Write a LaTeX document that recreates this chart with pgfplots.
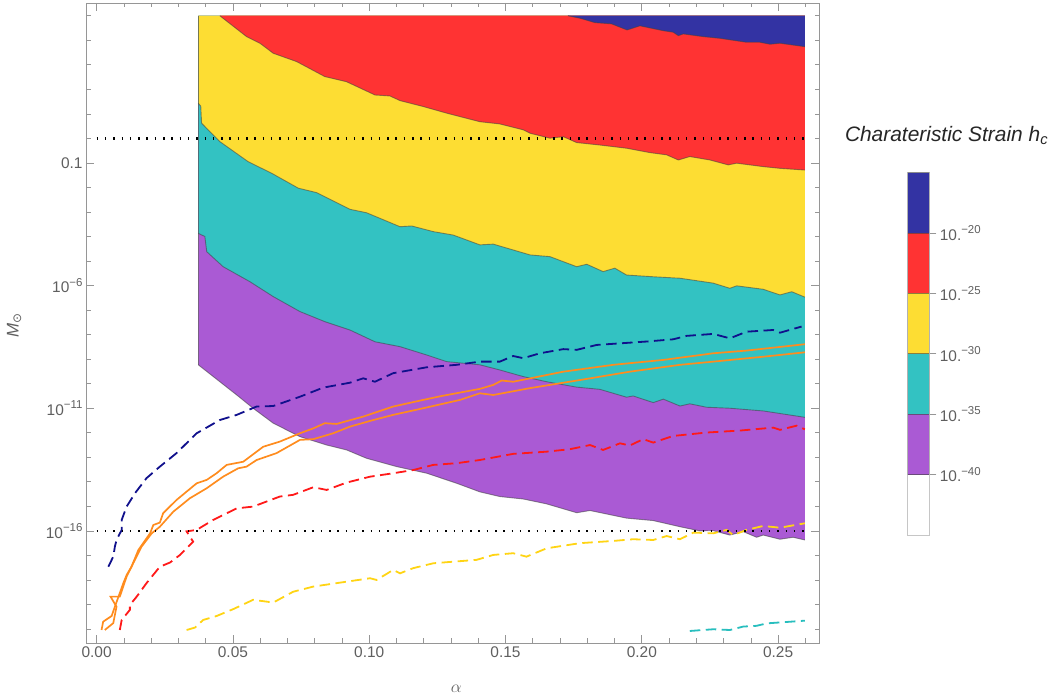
\documentclass[border=0pt]{standalone}
\usepackage{fontspec}
\setmainfont{Liberation Sans}
\newfontfamily\dejavu{DejaVu Sans}
\usepackage{pgfplots}
\usepackage{pgfplotstable}
\pgfplotsset{compat=1.18}

\definecolor{navyfill}{RGB}{51,51,163}
\definecolor{redfill}{RGB}{255,51,51}
\definecolor{yellowfill}{RGB}{253,221,51}
\definecolor{tealfill}{RGB}{51,194,194}
\definecolor{purplefill}{RGB}{170,90,212}
\definecolor{dnavy}{RGB}{16,16,140}
\definecolor{dred}{RGB}{255,25,25}
\definecolor{dyellow}{RGB}{255,212,20}
\definecolor{dteal}{RGB}{40,190,190}
\definecolor{lorange}{RGB}{255,140,30}
\definecolor{labgray}{RGB}{95,95,95}
\definecolor{framegray}{RGB}{150,150,150}

\newcommand\sups[1]{\raisebox{0.42em}{\fontsize{11.5}{12}\selectfont #1}}

% boundaries of the strain bands (x = alpha, y = log10 of mass); rows with y=5 close the band at the top
\pgfplotstableread{
x y
0.2598 5.00
0.1729 5.00
0.1729 4.999
0.1773 4.90
0.1828 4.72
0.1889 4.67
0.1946 4.42
0.1993 4.59
0.2079 4.39
0.2115 4.33
0.2134 4.19
0.2152 4.26
0.2225 4.15
0.2287 4.08
0.2384 3.92
0.2433 3.92
0.2470 3.84
0.2507 3.88
0.2598 3.74
}\bNavy

\pgfplotstableread{
x y
0.2598 5.00
0.0452 5.00
0.0452 4.999
0.0550 4.15
0.0599 3.88
0.0648 3.47
0.0734 3.13
0.0837 2.52
0.0917 2.31
0.1021 1.77
0.1076 1.73
0.1113 1.54
0.1198 1.30
0.1284 1.03
0.1357 0.82
0.1406 0.68
0.1479 0.59
0.1565 0.35
0.1590 0.21
0.1663 0.01
0.1712 0.07
0.1761 -0.17
0.1846 -0.27
0.1944 -0.40
0.2030 -0.58
0.2091 -0.67
0.2134 -0.88
0.2176 -0.74
0.2250 -0.88
0.2317 -1.08
0.2348 -1.01
0.2445 -1.15
0.2507 -1.22
0.2598 -1.29
}\bRed

\pgfplotstableread{
x y
0.2598 5.00
0.0373 5.00
0.0373 1.43
0.0382 1.32
0.0385 0.62
0.0452 -0.13
0.0556 -0.95
0.0642 -1.42
0.0740 -2.03
0.0807 -2.21
0.0929 -2.89
0.0990 -3.03
0.1113 -3.60
0.1156 -3.57
0.1235 -3.80
0.1308 -3.94
0.1357 -4.14
0.1406 -4.34
0.1455 -4.31
0.1590 -4.75
0.1663 -4.82
0.1761 -5.23
0.1798 -5.13
0.1858 -5.43
0.1901 -5.29
0.1944 -5.57
0.2042 -5.64
0.2140 -5.70
0.2262 -5.90
0.2323 -6.11
0.2348 -6.01
0.2445 -6.15
0.2507 -6.38
0.2550 -6.25
0.2598 -6.47
}\bYellow

\pgfplotstableread{
x y
0.2598 5.00
0.0373 5.00
0.0373 -3.87
0.0397 -4.00
0.0404 -4.62
0.0464 -5.23
0.0562 -5.84
0.0648 -6.45
0.0746 -7.06
0.0837 -7.47
0.0929 -7.81
0.1021 -8.29
0.1113 -8.49
0.1211 -8.83
0.1284 -9.10
0.1406 -9.23
0.1479 -9.44
0.1565 -9.71
0.1651 -9.92
0.1761 -10.14
0.1846 -10.23
0.1944 -10.55
0.1968 -10.50
0.2042 -10.77
0.2079 -10.63
0.2140 -10.91
0.2176 -10.82
0.2238 -10.96
0.2323 -11.00
0.2445 -11.11
0.2598 -11.37
}\bTeal

\pgfplotstableread{
x y
0.2598 5.00
0.0373 5.00
0.0373 -9.23
0.0428 -9.71
0.0514 -10.46
0.0574 -11.00
0.0648 -11.61
0.0746 -12.16
0.0844 -12.50
0.0917 -12.70
0.0990 -13.04
0.1101 -13.38
0.1211 -13.65
0.1321 -14.06
0.1406 -14.41
0.1479 -14.60
0.1565 -14.70
0.1651 -14.90
0.1761 -15.26
0.1810 -15.17
0.1944 -15.48
0.2042 -15.58
0.2140 -15.83
0.2213 -16.00
0.2262 -15.99
0.2323 -16.17
0.2372 -16.03
0.2421 -16.26
0.2445 -16.17
0.2507 -16.34
0.2555 -16.26
0.2598 -16.37
}\bPurple

% curves
\pgfplotstableread{
x y
0.0043 -17.46
0.0061 -17.05
0.0067 -16.64
0.0073 -16.37
0.0092 -15.96
0.0092 -15.55
0.0110 -15.01
0.0141 -14.46
0.0183 -13.85
0.0232 -13.38
0.0293 -12.83
0.0367 -12.02
0.0452 -11.48
0.0514 -11.27
0.0587 -10.93
0.0648 -10.91
0.0746 -10.53
0.0831 -10.16
0.0929 -9.96
0.0978 -9.78
0.1021 -9.92
0.1088 -9.57
0.1211 -9.33
0.1321 -9.23
0.1406 -9.10
0.1479 -9.10
0.1528 -8.87
0.1565 -8.96
0.1626 -8.76
0.1712 -8.59
0.1761 -8.62
0.1834 -8.42
0.2018 -8.28
0.2115 -8.19
0.2164 -8.05
0.2262 -7.97
0.2323 -8.15
0.2384 -7.88
0.2482 -7.81
0.2507 -7.92
0.2586 -7.67
}\cNavy

\pgfplotstableread{
x y
0.0018 -20.04
0.0024 -19.70
0.0055 -19.47
0.0067 -19.09
0.0098 -18.13
0.0110 -17.80
0.0128 -17.46
0.0153 -16.78
0.0196 -16.10
0.0208 -15.76
0.0232 -15.66
0.0244 -15.28
0.0293 -14.74
0.0367 -14.06
0.0404 -13.92
0.0440 -13.65
0.0477 -13.31
0.0538 -13.18
0.0611 -12.57
0.0672 -12.36
0.0746 -12.02
0.0795 -11.82
0.0837 -11.61
0.0880 -11.64
0.0978 -11.34
0.1088 -10.93
0.1198 -10.66
0.1266 -10.50
0.1406 -10.21
0.1455 -10.05
0.1486 -9.87
0.1528 -9.92
0.1712 -9.51
0.1895 -9.23
0.2079 -9.03
0.2262 -8.76
0.2384 -8.65
0.2598 -8.39
}\cOrangeA

\pgfplotstableread{
x y
0.0030 -20.04
0.0061 -19.76
0.0073 -19.09
0.0051 -18.68
0.0085 -18.68
0.0110 -17.86
0.0134 -17.32
0.0165 -16.64
0.0202 -16.10
0.0232 -15.83
0.0281 -15.22
0.0342 -14.67
0.0404 -14.26
0.0464 -13.79
0.0519 -13.45
0.0550 -13.38
0.0587 -13.11
0.0660 -12.83
0.0746 -12.29
0.0795 -12.26
0.0868 -12.02
0.0929 -11.75
0.1015 -11.48
0.1088 -11.27
0.1186 -11.03
0.1333 -10.66
0.1406 -10.39
0.1455 -10.46
0.1590 -10.18
0.1773 -9.85
0.1956 -9.51
0.2140 -9.23
0.2262 -9.10
0.2445 -8.90
0.2598 -8.72
}\cOrangeB

\pgfplotstableread{
x y
0.0085 -20.04
0.0092 -19.63
0.0122 -19.22
0.0122 -19.02
0.0147 -18.68
0.0183 -18.13
0.0232 -17.46
0.0269 -17.29
0.0306 -16.98
0.0354 -16.44
0.0330 -16.02
0.0367 -15.96
0.0428 -15.55
0.0514 -15.08
0.0574 -15.01
0.0672 -14.60
0.0721 -14.53
0.0795 -14.22
0.0844 -14.33
0.0917 -14.03
0.1003 -13.79
0.1088 -13.65
0.1161 -13.52
0.1235 -13.31
0.1321 -13.24
0.1406 -13.11
0.1528 -12.86
0.1651 -12.77
0.1736 -12.67
0.1810 -12.50
0.1858 -12.70
0.1920 -12.43
0.1956 -12.52
0.2005 -12.26
0.2042 -12.40
0.2115 -12.13
0.2238 -11.99
0.2360 -11.91
0.2482 -11.79
0.2507 -11.88
0.2568 -11.71
0.2598 -11.86
}\cRed

\pgfplotstableread{
x y
0.0330 -20.04
0.0361 -19.94
0.0391 -19.63
0.0440 -19.47
0.0501 -19.19
0.0574 -18.81
0.0648 -18.92
0.0721 -18.48
0.0795 -18.27
0.0917 -18.07
0.1003 -17.93
0.1027 -18.00
0.1088 -17.59
0.1113 -17.73
0.1161 -17.52
0.1235 -17.32
0.1394 -17.18
0.1455 -16.98
0.1528 -16.91
0.1577 -17.05
0.1651 -16.71
0.1773 -16.50
0.1895 -16.41
0.1968 -16.34
0.2042 -16.37
0.2091 -16.21
0.2140 -16.34
0.2189 -16.07
0.2262 -16.10
0.2311 -15.96
0.2335 -16.17
0.2384 -15.96
0.2445 -15.80
0.2507 -15.87
0.2598 -15.69
}\cYellow

\pgfplotstableread{
x y
0.2176 -20.08
0.2262 -20.01
0.2323 -20.04
0.2372 -19.90
0.2421 -19.87
0.2458 -19.77
0.2598 -19.66
}\cTeal

\begin{document}
\begin{tikzpicture}
\useasboundingbox (0,0) rectangle (1057bp,700bp);
\begin{axis}[
  at={(86bp,57bp)}, anchor=south west,
  scale only axis, width=733bp, height=640bp,
  xmin=-0.0039, xmax=0.2650, ymin=-20.57, ymax=5.52,
  axis line style={framegray, line width=0.8bp},
  tick align=inside,
  every tick/.style={framegray, line width=0.7bp},
  major tick length=8bp, minor tick length=4.5bp,
  xtick={0,0.05,0.10,0.15,0.20,0.25},
  xticklabels={0.00,0.05,0.10,0.15,0.20,0.25},
  minor xtick={0.01,0.02,0.03,0.04,0.06,0.07,0.08,0.09,0.11,0.12,0.13,0.14,0.16,0.17,0.18,0.19,0.21,0.22,0.23,0.24,0.26},
  ytick={-16,-11,-6,-1},
  yticklabels={10\sups{−16},10\sups{−11},10\sups{−6},0.1},
  minor ytick={-20,-19,-18,-17,-15,-14,-13,-12,-10,-9,-8,-7,-5,-4,-3,-2,0,1,2,3,4,5},
  ticklabel style={font=\fontsize{15.5}{18}\selectfont, text=labgray},
  xlabel={$\alpha$}, ylabel={\itshape M\textsubscript{\dejavu\upshape ⊙}},
  label style={font=\fontsize{17}{20}\selectfont, text=labgray},
  xlabel style={at={(axis description cs:0.505,-0.072)}, anchor=center},
  ylabel style={at={(axis description cs:-0.098,0.497)}, anchor=center},
]
\addplot[fill=purplefill, draw=none] table {\bPurple} -- cycle;
\addplot[fill=tealfill, draw=none] table {\bTeal} -- cycle;
\addplot[fill=yellowfill, draw=none] table {\bYellow} -- cycle;
\addplot[fill=redfill, draw=none] table {\bRed} -- cycle;
\addplot[fill=navyfill, draw=none] table {\bNavy} -- cycle;
% contour edges (top closing rows are skipped)
\pgfplotsset{bnd/.style={draw=black!75, draw opacity=0.55, line width=0.9bp, restrict y to domain=-30:4.9995}}
\addplot[draw=black!75, draw opacity=0.6, line width=1bp] coordinates {(0.0373,5) (0.0373,-9.23)};
\addplot[bnd] table {\bPurple};
\addplot[bnd] table {\bTeal};
\addplot[bnd] table {\bYellow};
\addplot[bnd] table {\bRed};
\addplot[bnd] table {\bNavy};
% curves
\pgfplotsset{dsh/.style={line width=1.8bp, dash pattern=on 10.5bp off 5.5bp}}
\addplot[dsh, dnavy] table {\cNavy};
\addplot[dsh, dred] table {\cRed};
\addplot[dsh, dyellow] table {\cYellow};
\addplot[dsh, dteal] table {\cTeal};
\addplot[lorange, line width=1.7bp] table {\cOrangeA};
\addplot[lorange, line width=1.7bp] table {\cOrangeB};
% reference mass lines
\addplot[black, line width=2.6bp, dash pattern=on 1.5bp off 6.8bp] coordinates {(0,0) (0.2598,0)};
\addplot[black, line width=2.6bp, dash pattern=on 1.5bp off 6.8bp] coordinates {(0,-16) (0.2598,-16)};
\end{axis}

% colour legend
\begin{axis}[
  at={(907.7bp,165bp)}, anchor=south west,
  scale only axis, width=21.6bp, height=362.3bp,
  xmin=0, xmax=1, ymin=0, ymax=6,
  axis line style={gray!45, line width=0.8bp},
  xtick=\empty,
  ytick={1,2,3,4,5},
  yticklabels={10.\sups{−40},10.\sups{−35},10.\sups{−30},10.\sups{−25},10.\sups{−20}},
  ytick pos=right, yticklabel pos=right,
  tick align=outside, major tick length=7bp,
  every tick/.style={framegray, line width=0.7bp},
  yticklabel style={font=\fontsize{15.5}{18}\selectfont, text=labgray},
  title={\fontsize{21}{24}\selectfont\itshape Charateristic Strain h\textsubscript{c}},
  title style={at={(1.8,1.069)}, anchor=base, text=black!85},
]
\addplot[fill=navyfill, draw=none] coordinates {(0,5) (1,5) (1,6) (0,6)} -- cycle;
\addplot[fill=redfill, draw=none] coordinates {(0,4) (1,4) (1,5) (0,5)} -- cycle;
\addplot[fill=yellowfill, draw=none] coordinates {(0,3) (1,3) (1,4) (0,4)} -- cycle;
\addplot[fill=tealfill, draw=none] coordinates {(0,2) (1,2) (1,3) (0,3)} -- cycle;
\addplot[fill=purplefill, draw=none] coordinates {(0,1) (1,1) (1,2) (0,2)} -- cycle;
\addplot[draw=black!75, draw opacity=0.6, line width=0.9bp] coordinates {(0,1) (1,1)};
\addplot[draw=black!75, draw opacity=0.6, line width=0.9bp] coordinates {(0,2) (1,2)};
\addplot[draw=black!75, draw opacity=0.6, line width=0.9bp] coordinates {(0,3) (1,3)};
\addplot[draw=black!75, draw opacity=0.6, line width=0.9bp] coordinates {(0,4) (1,4)};
\addplot[draw=black!75, draw opacity=0.6, line width=0.9bp] coordinates {(0,5) (1,5)};
\addplot[draw=black!60, draw opacity=0.6, line width=0.9bp] coordinates {(0,1) (0,6) (1,6) (1,1)};
\end{axis}
\end{tikzpicture}
\end{document}
